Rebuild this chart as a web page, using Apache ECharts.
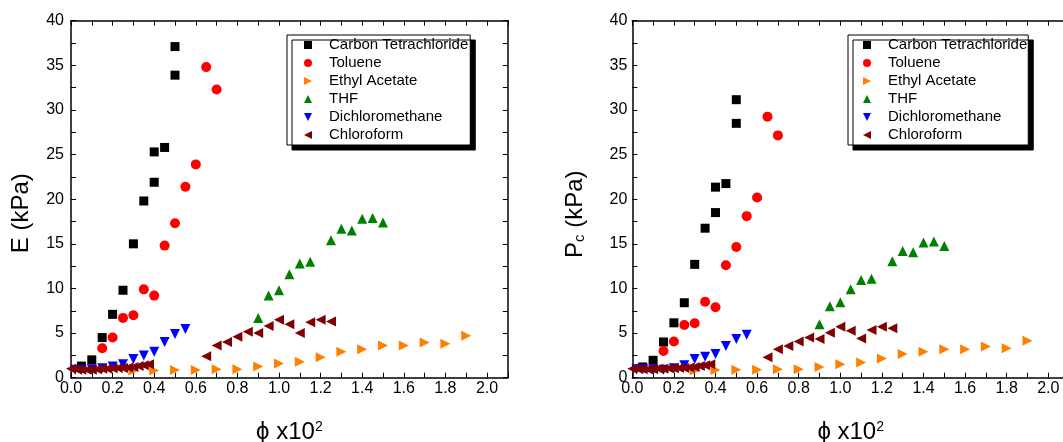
<!DOCTYPE html>
<html><head><meta charset="utf-8">
<script src="https://cdn.jsdelivr.net/npm/echarts/dist/echarts.min.js"></script>
<style>html,body{margin:0;padding:0;background:#fff}#c{width:1063px;height:442px}</style>
</head><body><div id="c"></div><script>
// ---- data ----
const seriesNames = ['Carbon Tetrachloride','Toluene','Ethyl Acetate','THF','Dichloromethane','Chloroform'];
const ctX  = [0.05,0.1,0.15,0.2,0.25,0.3,0.35,0.4,0.4,0.45,0.5,0.5];
const ctE  = [1.3,2.0,4.5,7.1,9.8,15.0,19.8,21.9,25.3,25.8,33.9,37.1];
const ctP  = [1.2,1.95,4.0,6.15,8.4,12.7,16.75,18.5,21.35,21.75,28.5,31.15];
const toX  = [0.15,0.2,0.25,0.3,0.35,0.4,0.45,0.5,0.55,0.6,0.65,0.7];
const toE  = [3.3,4.5,6.7,7.0,9.9,9.2,14.8,17.3,21.4,23.9,34.8,32.3];
const toP  = [3.0,4.05,5.9,6.1,8.5,7.9,12.6,14.65,18.1,20.2,29.25,27.15];
const eaX  = [0.3,0.4,0.5,0.6,0.7,0.8,0.9,1.0,1.1,1.2,1.3,1.4,1.5,1.6,1.7,1.8,1.9];
const eaE  = [0.8,0.8,0.85,0.85,0.95,0.95,1.25,1.6,1.8,2.3,2.9,3.2,3.6,3.6,3.95,3.8,4.7];
const eaP  = [0.8,0.85,0.9,0.9,0.95,0.95,1.2,1.5,1.7,2.15,2.65,2.9,3.2,3.2,3.5,3.3,4.15];
const thX  = [0.9,0.95,1.0,1.05,1.1,1.15,1.25,1.3,1.35,1.4,1.45,1.5];
const thE  = [6.7,9.2,9.8,11.6,12.8,13.0,15.4,16.7,16.5,17.8,17.9,17.4];
const thP  = [6.0,8.0,8.45,9.9,10.95,11.1,13.05,14.2,14.05,15.15,15.25,14.75];
const dcX  = [0.02,0.05,0.1,0.15,0.2,0.25,0.3,0.35,0.4,0.45,0.5,0.55];
const dcE  = [0.9,0.85,0.95,1.05,1.25,1.5,2.1,2.5,2.9,4.0,4.9,5.45];
const dcP  = [0.95,0.95,0.9,0.9,1.05,1.4,2.1,2.35,2.65,3.55,4.35,4.8];
const chX  = [0.0,0.025,0.05,0.075,0.1,0.125,0.15,0.175,0.2,0.225,0.25,0.275,0.3,0.325,0.35,0.375,
              0.65,0.7,0.75,0.8,0.85,0.9,0.95,1.0,1.05,1.1,1.15,1.2,1.25];
const chE  = [1.0,0.95,0.9,0.9,0.9,0.95,1.0,1.0,1.05,1.1,1.1,1.15,1.2,1.3,1.4,1.5,
              2.4,3.6,4.0,4.6,5.15,5.0,5.8,6.5,6.0,5.0,6.2,6.5,6.3];
const chP  = [1.0,1.0,0.95,0.95,0.95,1.0,1.0,1.05,1.05,1.1,1.1,1.15,1.2,1.3,1.4,1.5,
              2.3,3.2,3.55,4.05,4.5,4.35,5.05,5.7,5.25,4.4,5.35,5.7,5.55];

// ---- styling ----
const FONT = 'Liberation Sans, Arial, sans-serif';
const TRI_RIGHT = 'path://M0,0L10,5L0,10Z';
const TRI_LEFT  = 'path://M10,0L0,5L10,10Z';
const TRI_DOWN  = 'path://M0,0L10,0L5,10Z';
const TRI_UP    = 'path://M5,0L10,10L0,10Z';
const styles = [
  {symbol:'rect', color:'#000000', size:9},
  {symbol:'circle', color:'#ff0000', size:10},
  {symbol:TRI_RIGHT, color:'#ff8000', size:10},
  {symbol:TRI_UP, color:'#008000', size:10},
  {symbol:TRI_DOWN, color:'#0000ff', size:10},
  {symbol:TRI_LEFT, color:'#800000', size:10}
];
const panelData = [
  [[ctX,ctE],[toX,toE],[eaX,eaE],[thX,thE],[dcX,dcE],[chX,chE]],
  [[ctX,ctP],[toX,toP],[eaX,eaP],[thX,thP],[dcX,dcP],[chX,chP]]
];
const grids = [
  {left:71, top:20.7, width:436.8, height:357},
  {left:632.3, top:20.7, width:436.8, height:357}
];

const series = [];
panelData.forEach((pd, gi) => {
  pd.forEach((xy, si) => {
    const st = styles[si];
    series.push({
      name: seriesNames[si], type:'scatter', xAxisIndex: gi*2, yAxisIndex: gi*2,
      data: xy[0].map((x,i)=>[x, xy[1][i]]),
      symbol: st.symbol, symbolSize: st.size,
      itemStyle:{color: st.color, opacity:1},
      emphasis:{disabled:true}, silent:true, animation:false
    });
  });
});

const lineStyle = {color:'#000', width:1.5};
function xAxes(gi) {
  const base = {gridIndex:gi, type:'value', min:0, max:2.1, interval:0.1,
    splitLine:{show:false},
    axisLine:{show:true, onZero:false, lineStyle},
    axisTick:{show:true, inside:true, length:5, lineStyle:{color:'#000', width:1}}};
  return [
    Object.assign({}, base, {position:'bottom',
      axisLabel:{show:true, margin:3, fontSize:16, color:'#000', fontFamily:FONT,
        formatter: v => (Math.round(v*10) % 2 === 0 && Math.round(v*10) <= 20) ? v.toFixed(1) : ''},
      name: '{a|\u03D5 x10}{b|2}', nameLocation:'middle', nameGap:42.6, nameMoveOverlap:false,
      nameTextStyle:{color:'#000', fontFamily:FONT,
        rich:{a:{fontSize:24, lineHeight:24, color:'#000', fontFamily:FONT},
              b:{fontSize:14, lineHeight:14, verticalAlign:'top', color:'#000', fontFamily:FONT}}}}),
    Object.assign({}, base, {position:'top', axisLabel:{show:false}})
  ];
}
function yAxes(gi, name, gap, rich, margin, shift) {
  const base = {gridIndex:gi, type:'value', min:0, max:40, interval:2.5,
    splitLine:{show:false},
    axisLine:{show:true, onZero:false, lineStyle},
    axisTick:{show:true, inside:true, length:5, lineStyle:{color:'#000', width:1}}};
  return [
    Object.assign({}, base, {position:'left',
      axisLabel:{show:true, margin:margin, fontSize:16, color:'#000', fontFamily:FONT,
        formatter: v => (v % 5 === 0) ? String(v) : ''},
      name: name, nameLocation:'middle', nameGap:gap, nameMoveOverlap:false,
      nameTextStyle:{color:'#000', fontFamily:FONT, fontSize:24, lineHeight:24, padding:[0,shift,0,0], rich:rich}}),
    Object.assign({}, base, {position:'right', axisLabel:{show:false}})
  ];
}

const legendBase = {
  data: seriesNames, orient:'vertical', itemGap:0, itemWidth:8, itemHeight:8,
  symbolKeepAspect:true,
  backgroundColor:'#fff', borderColor:'#000', borderWidth:1, borderRadius:0,
  shadowColor:'#000', shadowOffsetX:5, shadowOffsetY:5, shadowBlur:0,
  selectedMode:false,
  textStyle:{fontSize:15, lineHeight:18, color:'#000', fontFamily:FONT, padding:[0,0,0,12]}
};

const option = {
  backgroundColor:'#fff',
  animation:false,
  grid: grids.map(g => Object.assign({containLabel:false, outerBoundsMode:'none'}, g)),
  xAxis: [...xAxes(0), ...xAxes(1)],
  yAxis: [
    ...yAxes(0, 'E (kPa)', 37.5, {a:{fontSize:24, lineHeight:24, color:'#000', fontFamily:FONT}}, 7, 28),
    ...yAxes(1, '{a|P}{s|c}{a| (kPa)}', 44.7,
      {a:{fontSize:24, lineHeight:24, color:'#000', fontFamily:FONT},
       s:{fontSize:15, lineHeight:12, verticalAlign:'bottom', color:'#000', fontFamily:FONT}}, 5, 30)
  ],
  legend: [
    Object.assign({}, legendBase, {left:287, top:35, padding:[1,2,1,17]}),
    Object.assign({}, legendBase, {left:848, top:35, padding:[1,1,1,15]})
  ],
  series: series
};

const chart = echarts.init(document.getElementById('c'), null, {renderer:'canvas'});
chart.setOption(option);
</script></body></html>
